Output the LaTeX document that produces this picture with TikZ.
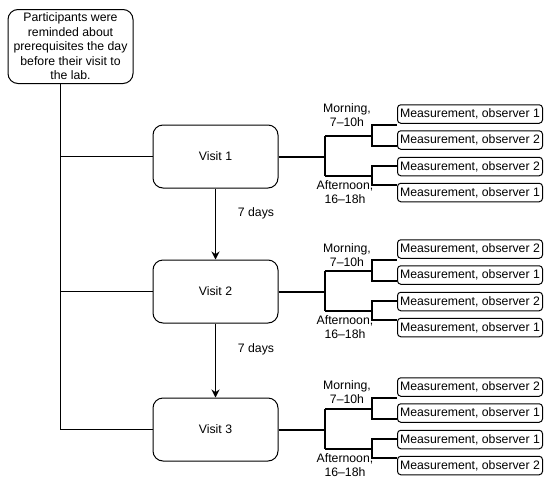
\documentclass[tikz,border=0pt]{standalone}
\usepackage{fontspec}
\setmainfont{Liberation Sans}
\usetikzlibrary{arrows.meta}
\begin{document}
\begin{tikzpicture}[x=0.75pt,y=-0.75pt,
  every node/.style={font=\fontsize{9.2}{10.9}\selectfont, inner sep=0pt},
  visitbox/.style={draw, rounded corners=7.5pt, minimum width=125*0.75pt, minimum height=63*0.75pt, line width=0.75pt},
  notebox/.style={draw, rounded corners=7.5pt, minimum width=125*0.75pt, minimum height=74*0.75pt, line width=0.75pt, align=center},
  meas/.style={draw, rounded corners=2.5pt, minimum width=145*0.75pt, minimum height=18.5*0.75pt, anchor=west, line width=0.75pt},
  thinline/.style={line width=0.75pt},
  tree/.style={line width=1.5pt},
  flow/.style={line width=1.2pt, -{Stealth[length=6pt,width=6pt]}},
  lbl/.style={align=center}
]
\useasboundingbox (0,0) rectangle (550,486);

\node[notebox] (top) at (70.5,46.5) {Participants were\\reminded about\\prerequisites the day\\before their visit to\\the lab.};
\coordinate (sp) at (60,0);

\foreach \n/\c/\a/\b/\cc/\d/\mo in {1/156.5/1/2/2/1/-41.5, 2/291.5/2/1/2/1/-36.5, 3/429.5/2/1/1/2/-37.5}{
  \node[visitbox] (v\n) at (215.5,\c) {Visit \n};
  \node[meas] (m\n-1) at (397,\c-42.5) {Measurement, observer \a};
  \node[meas] (m\n-2) at (397,\c-16.5) {Measurement, observer \b};
  \node[meas] (m\n-3) at (397,\c+10) {Measurement, observer \cc};
  \node[meas] (m\n-4) at (397,\c+36) {Measurement, observer \d};
  \node[lbl] (mo\n) at (347,\c+\mo) {Morning,\\7--10h};
  \node[lbl] (af\n) at (345,\c+35.5) {Afternoon,\\16--18h};
  \coordinate (j\n) at (325,\c);
  \coordinate (jm\n) at (325,\c-20.5);
  \coordinate (ja\n) at (325,\c+19.5);
  \coordinate (sm\n-1) at (372,\c-31.5);
  \coordinate (sm\n-2) at (372,\c-11);
  \coordinate (sa\n-1) at (372,\c+9);
  \coordinate (sa\n-2) at (372,\c+28);
  \draw[tree] (v\n.east) -- (j\n);
  \draw[tree] (jm\n) -- (ja\n);
  \draw[tree] (jm\n) -- (jm\n -| sm\n-1);
  \draw[tree] (ja\n) -- (ja\n -| sa\n-1);
  \draw[tree] (m\n-1.west |- sm\n-1) -- (sm\n-1) -- (sm\n-2) -- (m\n-2.west |- sm\n-2);
  \draw[tree] (m\n-3.west |- sa\n-1) -- (sa\n-1) -- (sa\n-2) -- (m\n-4.west |- sa\n-2);
}

\draw[thinline] (top.south -| sp) |- (v3.west);
\draw[thinline] (v1.west -| sp) -- (v1.west);
\draw[thinline] (v2.west -| sp) -- (v2.west);

\draw[flow] (v1) -- (v2);
\draw[flow] (v2) -- (v3);
\node (d1) at (256,213) {7 days};
\node (d2) at (256,349) {7 days};
\end{tikzpicture}
\end{document}
